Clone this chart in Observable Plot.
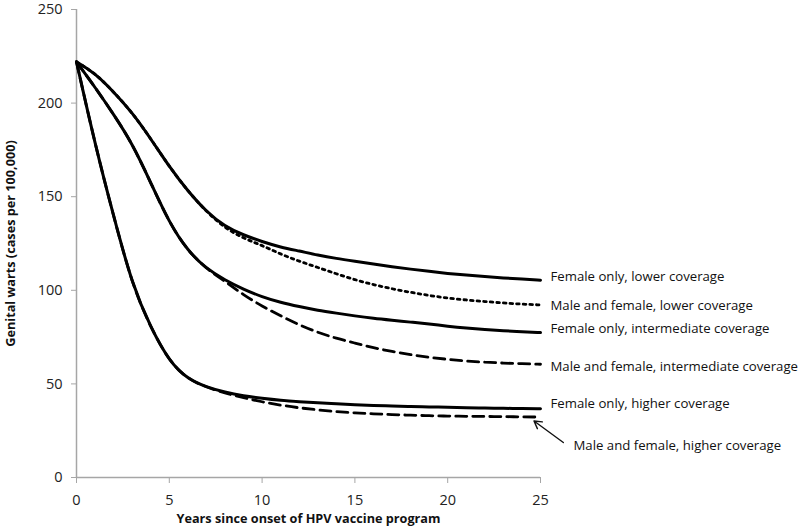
<!DOCTYPE html>
<html><head><meta charset="utf-8">
<script src="https://cdn.jsdelivr.net/npm/d3@7"></script>
<script src="https://cdn.jsdelivr.net/npm/@observablehq/plot@0.6"></script>
<style>body{margin:0;background:#fff;}</style>
</head><body><div id="chart"></div>
<script>
const years = [0,1,2,3,4,5,6,7,8,9,10,11,12,13,14,15,16,17,18,19,20,21,22,23,24,25];
const femaleLower = [222,216,206,195,181,166,153,142,134,129.5,126,123,121,118.8,117,115.5,114,112.6,111.3,110.1,109,108.1,107.3,106.6,106,105.4];
const maleFemaleLower = [222,216,206,195,181,166,153,142,133.2,127.8,124,119.3,115.5,112.2,108.8,105.6,103,100.8,98.9,97.2,95.8,94.8,94,93.2,92.6,92.2];
const femaleInter = [222,208.5,194,178.5,157.5,136,121,111.5,105.5,100.5,96.5,93.5,91.3,89.3,87.8,86.3,85,84,83,82,80.8,79.8,79,78.4,77.9,77.4];
const maleFemaleInter = [222,208.5,194,178.5,157.5,136,121,111.5,104.8,97.5,91.5,86.3,81.5,77.5,74.3,71.8,69.3,67.3,65.6,64.2,63.1,62.2,61.6,61.1,60.8,60.5];
const femaleHigher = [222,178,139.5,103,80,62,52.5,48.3,45.5,43.6,42.3,41.2,40.5,39.9,39.4,38.9,38.5,38.2,37.9,37.7,37.5,37.3,37.1,37,36.8,36.7];
const maleFemaleHigher = [222,178,139.5,103,80,62,52.5,48.3,45,42.6,40.4,38.6,37.2,36.1,35.2,34.5,34,33.6,33.3,33,32.8,32.7,32.6,32.5,32.4,32.3];
const seriesNames = ["Female only, lower coverage","Male and female, lower coverage","Female only, intermediate coverage","Male and female, intermediate coverage","Female only, higher coverage","Male and female, higher coverage"];
const seriesValues = [femaleLower, maleFemaleLower, femaleInter, maleFemaleInter, femaleHigher, maleFemaleHigher];
const labelValues = [107, 91.5, 79.4, 59.3, 39.2, 16.9];
const xTicks = [0,5,10,15,20,25];
const yTicks = [0,50,100,150,200,250];
const arrowFrom = {year: 26.23, value: 18.7};
const arrowTo = {year: 24.65, value: 30.2};
const xTitle = "Years since onset of HPV vaccine program";
const yTitle = "Genital warts (cases per 100,000)";

const rows = seriesNames.flatMap((name, i) => years.map((yr, j) => ({series: name, year: yr, value: seriesValues[i][j]})));
const sel = i => rows.filter(d => d.series === seriesNames[i]);
const labels = seriesNames.map((name, i) => ({name, year: 25, value: labelValues[i]}));

const axisGrey = "#a6a6a6";
const lineOpts = {x: "year", y: "value", curve: "basis", stroke: "#000"};
const plot = Plot.plot({
  width: 800, height: 529,
  marginLeft: 76, marginRight: 260, marginTop: 9, marginBottom: 52,
  x: {domain: [0, 25]},
  y: {domain: [0, 250]},
  style: {fontFamily: "'Open Sans', sans-serif", fontSize: "14px", background: "#fff", color: "#222"},
  marks: [
    Plot.axisX({ticks: xTicks, tickSize: 6, tickPadding: 11, stroke: axisGrey, fill: "#222", fontSize: 14.5, label: null}),
    Plot.axisY({ticks: yTicks, tickSize: 5, tickPadding: 9, stroke: axisGrey, fill: "#222", fontSize: 14.5, label: null}),
    Plot.ruleX([0], {stroke: axisGrey, strokeWidth: 1.5}),
    Plot.ruleY([0], {stroke: axisGrey, strokeWidth: 1.5}),
    Plot.line(sel(1), {...lineOpts, strokeWidth: 2.8, strokeDasharray: "2.6,4"}),
    Plot.line(sel(3), {...lineOpts, strokeWidth: 2.8, strokeDasharray: "11,6"}),
    Plot.line(sel(5), {...lineOpts, strokeWidth: 2.8, strokeDasharray: "11,6"}),
    Plot.line(sel(0), {...lineOpts, strokeWidth: 3}),
    Plot.line(sel(2), {...lineOpts, strokeWidth: 3}),
    Plot.line(sel(4), {...lineOpts, strokeWidth: 3}),
    Plot.text(labels.slice(0, 5), {x: "year", y: "value", text: "name", textAnchor: "start", dx: 10, fontSize: 13.2, fill: "#111"}),
    Plot.text(labels.slice(5), {x: "year", y: "value", text: "name", textAnchor: "start", dx: 33, fontSize: 13.2, fill: "#111"}),
    Plot.arrow([{x1: arrowFrom.year, y1: arrowFrom.value, x2: arrowTo.year, y2: arrowTo.value}], {x1: "x1", y1: "y1", x2: "x2", y2: "y2", stroke: "#111", strokeWidth: 1.4, headLength: 9, bend: 0}),
    Plot.text([xTitle], {frameAnchor: "bottom", textAnchor: "middle", dy: 45, fontWeight: "bold", fontSize: 12.7, fill: "#111"}),
    Plot.text([yTitle], {frameAnchor: "left", textAnchor: "middle", rotate: -90, dx: -66, fontWeight: "bold", fontSize: 12.7, fill: "#111"})
  ]
});
document.getElementById("chart").append(plot);
</script>
</body></html>
